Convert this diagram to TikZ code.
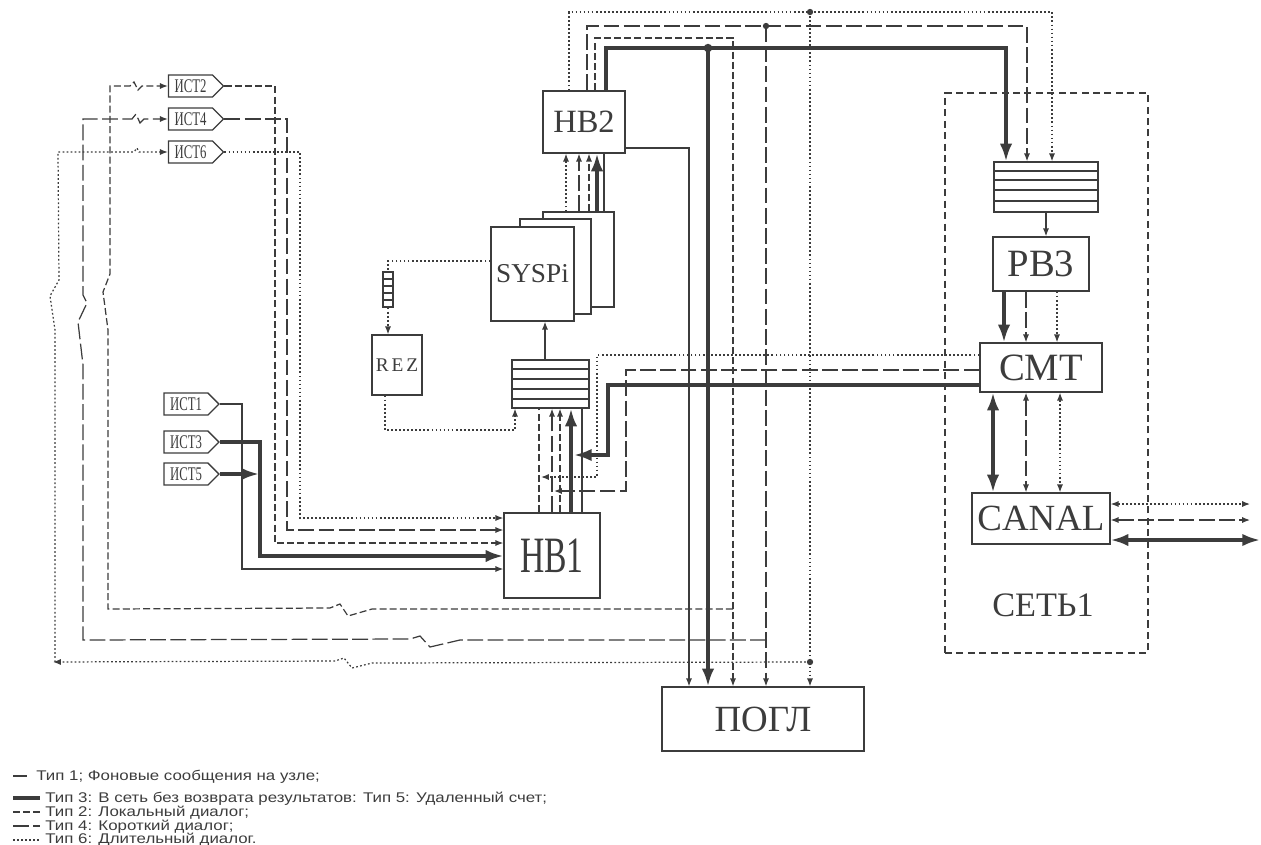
\documentclass[tikz,border=0pt]{standalone}
\usepackage{fontspec}
\setmainfont{Liberation Serif}
\newfontfamily\narrowserif[FakeStretch=0.66]{Liberation Serif}
\newfontfamily\spacedserif[LetterSpace=15]{Liberation Serif}
\newfontfamily\legendfont[FakeStretch=1.2]{Liberation Sans}
\usetikzlibrary{arrows.meta, shapes.symbols, calc}
\definecolor{ink}{RGB}{60,60,60}

\tikzset{
  box/.style={draw=ink, line width=0.8pt, inner sep=0pt, text=ink, fill=white},
  src/.style={signal, signal to=east, draw=ink, line width=0.8pt, minimum width=1.1cm, minimum height=0.44cm, inner sep=1pt, font=\narrowserif\fontsize{11}{11}\selectfont, text=ink},
  netbox/.style={draw=ink, line width=1.6pt, dash pattern=on 4pt off 2.5pt},
  t1/.style={draw=ink, line width=0.7pt},
  t3/.style={draw=ink, line width=1.8pt},
  t2/.style={draw=ink, line width=0.7pt, dash pattern=on 4pt off 1.8pt},
  t4/.style={draw=ink, line width=0.7pt, dash pattern=on 9pt off 2.5pt},
  t6/.style={draw=ink, line width=0.7pt, dash pattern=on 1pt off 1.3pt},
  sa/.style={-{Latex[length=4.5pt,width=3.5pt]}},
  ba/.style={-{Latex[length=10pt,width=7pt]}},
  sab/.style={{Latex[length=4.5pt,width=3.5pt]}-{Latex[length=4.5pt,width=3.5pt]}},
  bab/.style={{Latex[length=10pt,width=7pt]}-{Latex[length=10pt,width=7pt]}},
  legend/.style={anchor=base west, inner sep=0pt, text=ink, font=\legendfont\fontsize{8}{8}\selectfont}
}

\begin{document}
\begin{tikzpicture}[x=0.02cm, y=-0.02cm]
  \useasboundingbox (0,0) rectangle (1261,845);

  % network frame
  \node[netbox, minimum width=4.06cm, minimum height=11.2cm] (net) at (1046.5,373) {};
  \node[text=ink, font=\fontsize{19.5}{19.5}\selectfont] (netlbl) at (1043,605) {СЕТЬ1};

  % boxes
  \node[box, minimum width=1.64cm, minimum height=1.24cm, font=\fontsize{18.5}{18.5}\selectfont] (hb2) at (584,122) {HB2};
  \node[box, minimum width=1.42cm, minimum height=1.9cm] (sysb) at (578.5,259.5) {};
  \node[box, minimum width=1.42cm, minimum height=1.9cm] (sysm) at (555.5,266.5) {};
  \node[box, minimum width=1.66cm, minimum height=1.88cm, font=\fontsize{15.5}{15.5}\selectfont] (sysf) at (532.5,274) {SYSPi};
  \node[box, minimum width=1.0cm, minimum height=1.2cm, font=\spacedserif\fontsize{11}{11}\selectfont] (rez) at (397,365) {REZ};
  \node[box, minimum width=0.2cm, minimum height=0.7cm] (sq) at (388,289.5) {};
  \node[box, minimum width=1.54cm, minimum height=0.96cm] (mq) at (550.5,384) {};
  \node[box, minimum width=1.92cm, minimum height=1.7cm, font=\narrowserif\fontsize{29}{29}\selectfont] (hb1) at (552,555.5) {HB1};
  \node[box, minimum width=4.04cm, minimum height=1.28cm, font=\fontsize{21}{21}\selectfont] (pogl) at (763,719) {ПОГЛ};
  \node[box, minimum width=2.08cm, minimum height=1.0cm] (nq) at (1046,187) {};
  \node[box, minimum width=1.92cm, minimum height=1.08cm, font=\fontsize{22}{22}\selectfont] (pb3) at (1041,264) {PB3};
  \node[box, minimum width=2.44cm, minimum height=0.98cm, font=\fontsize{22}{22}\selectfont] (cmt) at (1041,367.5) {CMT};
  \node[box, minimum width=2.76cm, minimum height=1.02cm, font=\fontsize{21}{21}\selectfont] (canal) at (1041,518.5) {CANAL};

  % queue cells
  \foreach \y in {171,180,190,201} \draw[t1] (nq.west |- 0,\y) -- (nq.east |- 0,\y);
  \foreach \y in {369,379,389,399} \draw[t1] (mq.west |- 0,\y) -- (mq.east |- 0,\y);
  \foreach \y in {279,286,293,300} \draw[t1] (sq.west |- 0,\y) -- (sq.east |- 0,\y);

  % sources
  \node[src] (ist2) at (190.5,86) {ИСТ2};
  \node[src] (ist4) at (190.5,119) {ИСТ4};
  \node[src] (ist6) at (190.5,152) {ИСТ6};
  \node[src] (ist1) at (186,404) {ИСТ1};
  \node[src] (ist3) at (186,442) {ИСТ3};
  \node[src] (ist5) at (186,474) {ИСТ5};

  % junctions
  \coordinate (jt3) at (708,48);
  \coordinate (jt4) at (766,26);
  \coordinate (jt6) at (810,12);
  \coordinate (j2) at (733,609);
  \coordinate (j4) at (766,640);
  \coordinate (j6) at (810,662);
  \coordinate (c6) at (53,662);
  \coordinate (c6b) at (55,662);
  \coordinate (j5) at (259,474);
  \coordinate (r3) at (574,455);
  \coordinate (r6) at (541,477);
  \coordinate (r4) at (554,491);
  \coordinate (o6) at (1250,504);
  \coordinate (o4) at (1250,520);
  \coordinate (o3) at (1260,540);

  % returns to the sources
  \draw[t2,sa] (j2) -- (372,609) -- (348,616) -- (340,604) -- (330,608) -- (108,609) -- (108,330) -- (103,292) -- (110,274) -- (110,86) -- (130,86) -- (134,82) -- (138,90) -- (142,86) -- (ist2.west);
  \draw[t4,sa] (j4) -- (460,640) -- (430,647) -- (420,636) -- (410,639) -- (83,640) -- (83,365) -- (78,322) -- (87,303) -- (83,295) -- (83,119) -- (132,119) -- (136,114) -- (140,123) -- (144,119) -- (ist4.west);
  \draw[t6,sa] (j6) -- (372,663) -- (352,668) -- (344,658) -- (335,661) -- (c6);
  \draw[t6,sa] (c6b) -- (55,330) -- (50,296) -- (59,280) -- (58,152) -- (134,152) -- (137,148) -- (139,152) -- (ist6.west);

  % sources to HB1
  \draw[t2,sa] (ist2.east) -| (275,543) -- (hb1.west |- 0,543);
  \draw[t4,sa] (ist4.east) -| (287,530) -- (hb1.west |- 0,530);
  \draw[t6,sa] (ist6.east) -| (300,518) -- (hb1.west |- 0,518);
  \draw[t1,sa] (ist1.east) -| (242,569) -- (hb1.west |- 0,569);
  \draw[t3,ba] (ist3.east) -| (260,556) -- (hb1.west |- 0,556);
  \draw[t3,ba] (ist5.east) -- (j5);

  % HB1 to queue
  \draw[t2] (539,0 |- hb1.north) -- (539,0 |- mq.south);
  \draw[t4,sa] (552,0 |- hb1.north) -- (552,0 |- mq.south);
  \draw[t2,sa] (560,0 |- hb1.north) -- (560,0 |- mq.south);
  \draw[t3,ba] (571,0 |- hb1.north) -- (571,0 |- mq.south);
  \draw[t1] (582,0 |- hb1.north) -- (582,0 |- mq.south);

  % REZ loop
  \draw[t6] (sysf.west |- 0,261) -| (sq.north);
  \draw[t6,sa] (sq.south) -- (sq.south |- rez.north);
  \draw[t6,sa] (385,0 |- rez.south) -- (385,430) -| (515,0 |- mq.south);
  \draw[t1,sa] (545,0 |- mq.north) -- (545,0 |- sysf.south);

  % SYSPi to HB2
  \draw[t6,sa] (566,0 |- sysb.north) -- (566,0 |- hb2.south);
  \draw[t4,sa] (579,0 |- sysb.north) -- (579,0 |- hb2.south);
  \draw[t2,sa] (589,0 |- sysb.north) -- (589,0 |- hb2.south);
  \draw[t3,ba] (597,0 |- sysb.north) -- (597,0 |- hb2.south);
  \draw[t1] (604,0 |- sysb.north) -- (604,0 |- hb2.south);

  % HB2 outputs
  \draw[t6,sa] (569,0 |- hb2.north) |- (1052,12) -- (1052,0 |- nq.north);
  \draw[t4,sa] (587,0 |- hb2.north) |- (1027,26) -- (1027,0 |- nq.north);
  \draw[t2,sa] (595,0 |- hb2.north) |- (733,38) -- (733,0 |- pogl.north);
  \draw[t3,ba] (606,0 |- hb2.north) |- (1006,48) -- (1006,0 |- nq.north);
  \draw[t1,sa] (hb2.east |- 0,148) -| (689,0 |- pogl.north);
  \draw[t3,ba] (jt3) -- (jt3 |- pogl.north);
  \draw[t4,sa] (jt4) -- (jt4 |- pogl.north);
  \draw[t6,sa] (jt6) -- (jt6 |- pogl.north);
  \fill[ink] (jt3) circle (2.4pt);
  \fill[ink] (jt4) circle (1.8pt);
  \fill[ink] (jt6) circle (1.8pt);
  \fill[ink] (j6) circle (1.8pt);

  % inside the network
  \draw[t1,sa] (nq.south) -- (nq.south |- pb3.north);
  \draw[t3,ba] (1004,0 |- pb3.south) -- (1004,0 |- cmt.north);
  \draw[t4,sa] (1026,0 |- pb3.south) -- (1026,0 |- cmt.north);
  \draw[t6,sa] (1057,0 |- pb3.south) -- (1057,0 |- cmt.north);
  \draw[t3,bab] (993,0 |- cmt.south) -- (993,0 |- canal.north);
  \draw[t4,sab] (1026,0 |- cmt.south) -- (1026,0 |- canal.north);
  \draw[t6,sab] (1060,0 |- cmt.south) -- (1060,0 |- canal.north);
  \draw[t6,sab] (canal.east |- o6) -- (o6);
  \draw[t4,sab] (canal.east |- o4) -- (o4);
  \draw[t3,bab] (canal.east |- o3) -- (o3);

  % CMT back to the queue
  \draw[t6,sa] (cmt.west |- 0,355) -| (597,477) -- (r6);
  \draw[t4,sa] (cmt.west |- 0,370) -| (626,491) -- (r4);
  \draw[t3,ba] (cmt.west |- 0,385) -| (608,455) -- (r3);

  % legend
  \draw[t1] (13,776) -- (27,776);
  \node[legend] (lg1) at (36,780) {Тип 1; Фоновые сообщения на узле;};
  \draw[t3] (13,798) -- (40,798);
  \node[legend] (lg3) at (45,802) {Тип 3: В сеть без возврата результатов: Тип 5: Удаленный счет;};
  \draw[t2] (13,812) -- (40,812);
  \node[legend] (lg2) at (45,816) {Тип 2: Локальный диалог;};
  \draw[t4] (13,826) -- (40,826);
  \node[legend] (lg4) at (45,830) {Тип 4: Короткий диалог;};
  \draw[t6] (13,840) -- (40,840);
  \node[legend] (lg6) at (45,843.5) {Тип 6: Длительный диалог.};
\end{tikzpicture}
\end{document}
